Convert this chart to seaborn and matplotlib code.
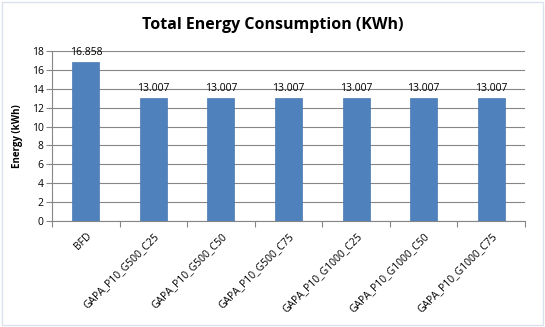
import matplotlib
matplotlib.use("Agg")
import matplotlib.pyplot as plt
import seaborn as sns
import pandas as pd
from matplotlib.patches import Rectangle

categories = ["BFD", "GAPA_P10_G500_C25", "GAPA_P10_G500_C50", "GAPA_P10_G500_C75",
              "GAPA_P10_G1000_C25", "GAPA_P10_G1000_C50", "GAPA_P10_G1000_C75"]
energy = [16.858, 13.007, 13.007, 13.007, 13.007, 13.007, 13.007]
value_labels = ["16.858", "13.007", "13.007", "13.007", "13.007", "13.007", "13.007"]

df = pd.DataFrame({"case": categories, "energy": energy})

sns.set_style("white", {"text.color": "black", "axes.labelcolor": "black",
                        "xtick.color": "black", "ytick.color": "black"})
plt.rcParams["font.family"] = ["Open Sans", "DejaVu Sans"]

fig = plt.figure(figsize=(5.45, 3.27), dpi=100)
ax = fig.add_axes([0.0954, 0.324, 0.868, 0.52])

sns.barplot(data=df, x="case", y="energy", color="#4F81BD", saturation=1, width=0.4,
            edgecolor="#4A7AB3", linewidth=0.5, ax=ax, zorder=3)

ax.set_ylim(0, 18)
ax.set_yticks(range(0, 19, 2))
ax.set_xlim(-0.5, len(categories) - 0.5)
ax.yaxis.grid(True, color="#868686", linewidth=0.8, zorder=0)
for s in ["top", "right"]:
    ax.spines[s].set_visible(False)
for s in ["left", "bottom"]:
    ax.spines[s].set_color("#868686")
    ax.spines[s].set_linewidth(0.8)

ax.tick_params(axis="y", length=4, width=0.8, color="#868686", labelcolor="black",
               labelsize=7.5, pad=2, left=True)
ax.set_xticks(range(len(categories)))
ax.set_xticklabels(categories, rotation=45, ha="right", rotation_mode="anchor",
                   fontsize=7.5, color="black")
ax.tick_params(axis="x", length=0, pad=7)
# tick marks between categories
ax.set_xticks([i - 0.5 for i in range(len(categories) + 1)], minor=True)
ax.tick_params(axis="x", which="minor", length=4, width=0.8, color="#868686", bottom=True)

for i, lab in enumerate(value_labels):
    ax.annotate(lab, (i, energy[i]), xytext=(0, 3), textcoords="offset points",
                ha="center", va="bottom", fontsize=7.5, color="black")

ax.set_xlabel("")
ax.set_ylabel("Energy (kWh)", fontsize=7, fontweight="bold", labelpad=6, color="black")

fig.text(0.5, 0.925, "Total Energy Consumption (KWh)", ha="center", va="center",
         fontsize=11.5, fontweight="bold", color="black")

fig.patches.append(Rectangle((0.003, 0.005), 0.994, 0.99, transform=fig.transFigure,
                             fill=False, edgecolor="#D9E1EC", linewidth=1))

fig.savefig("out.png", dpi=100)
